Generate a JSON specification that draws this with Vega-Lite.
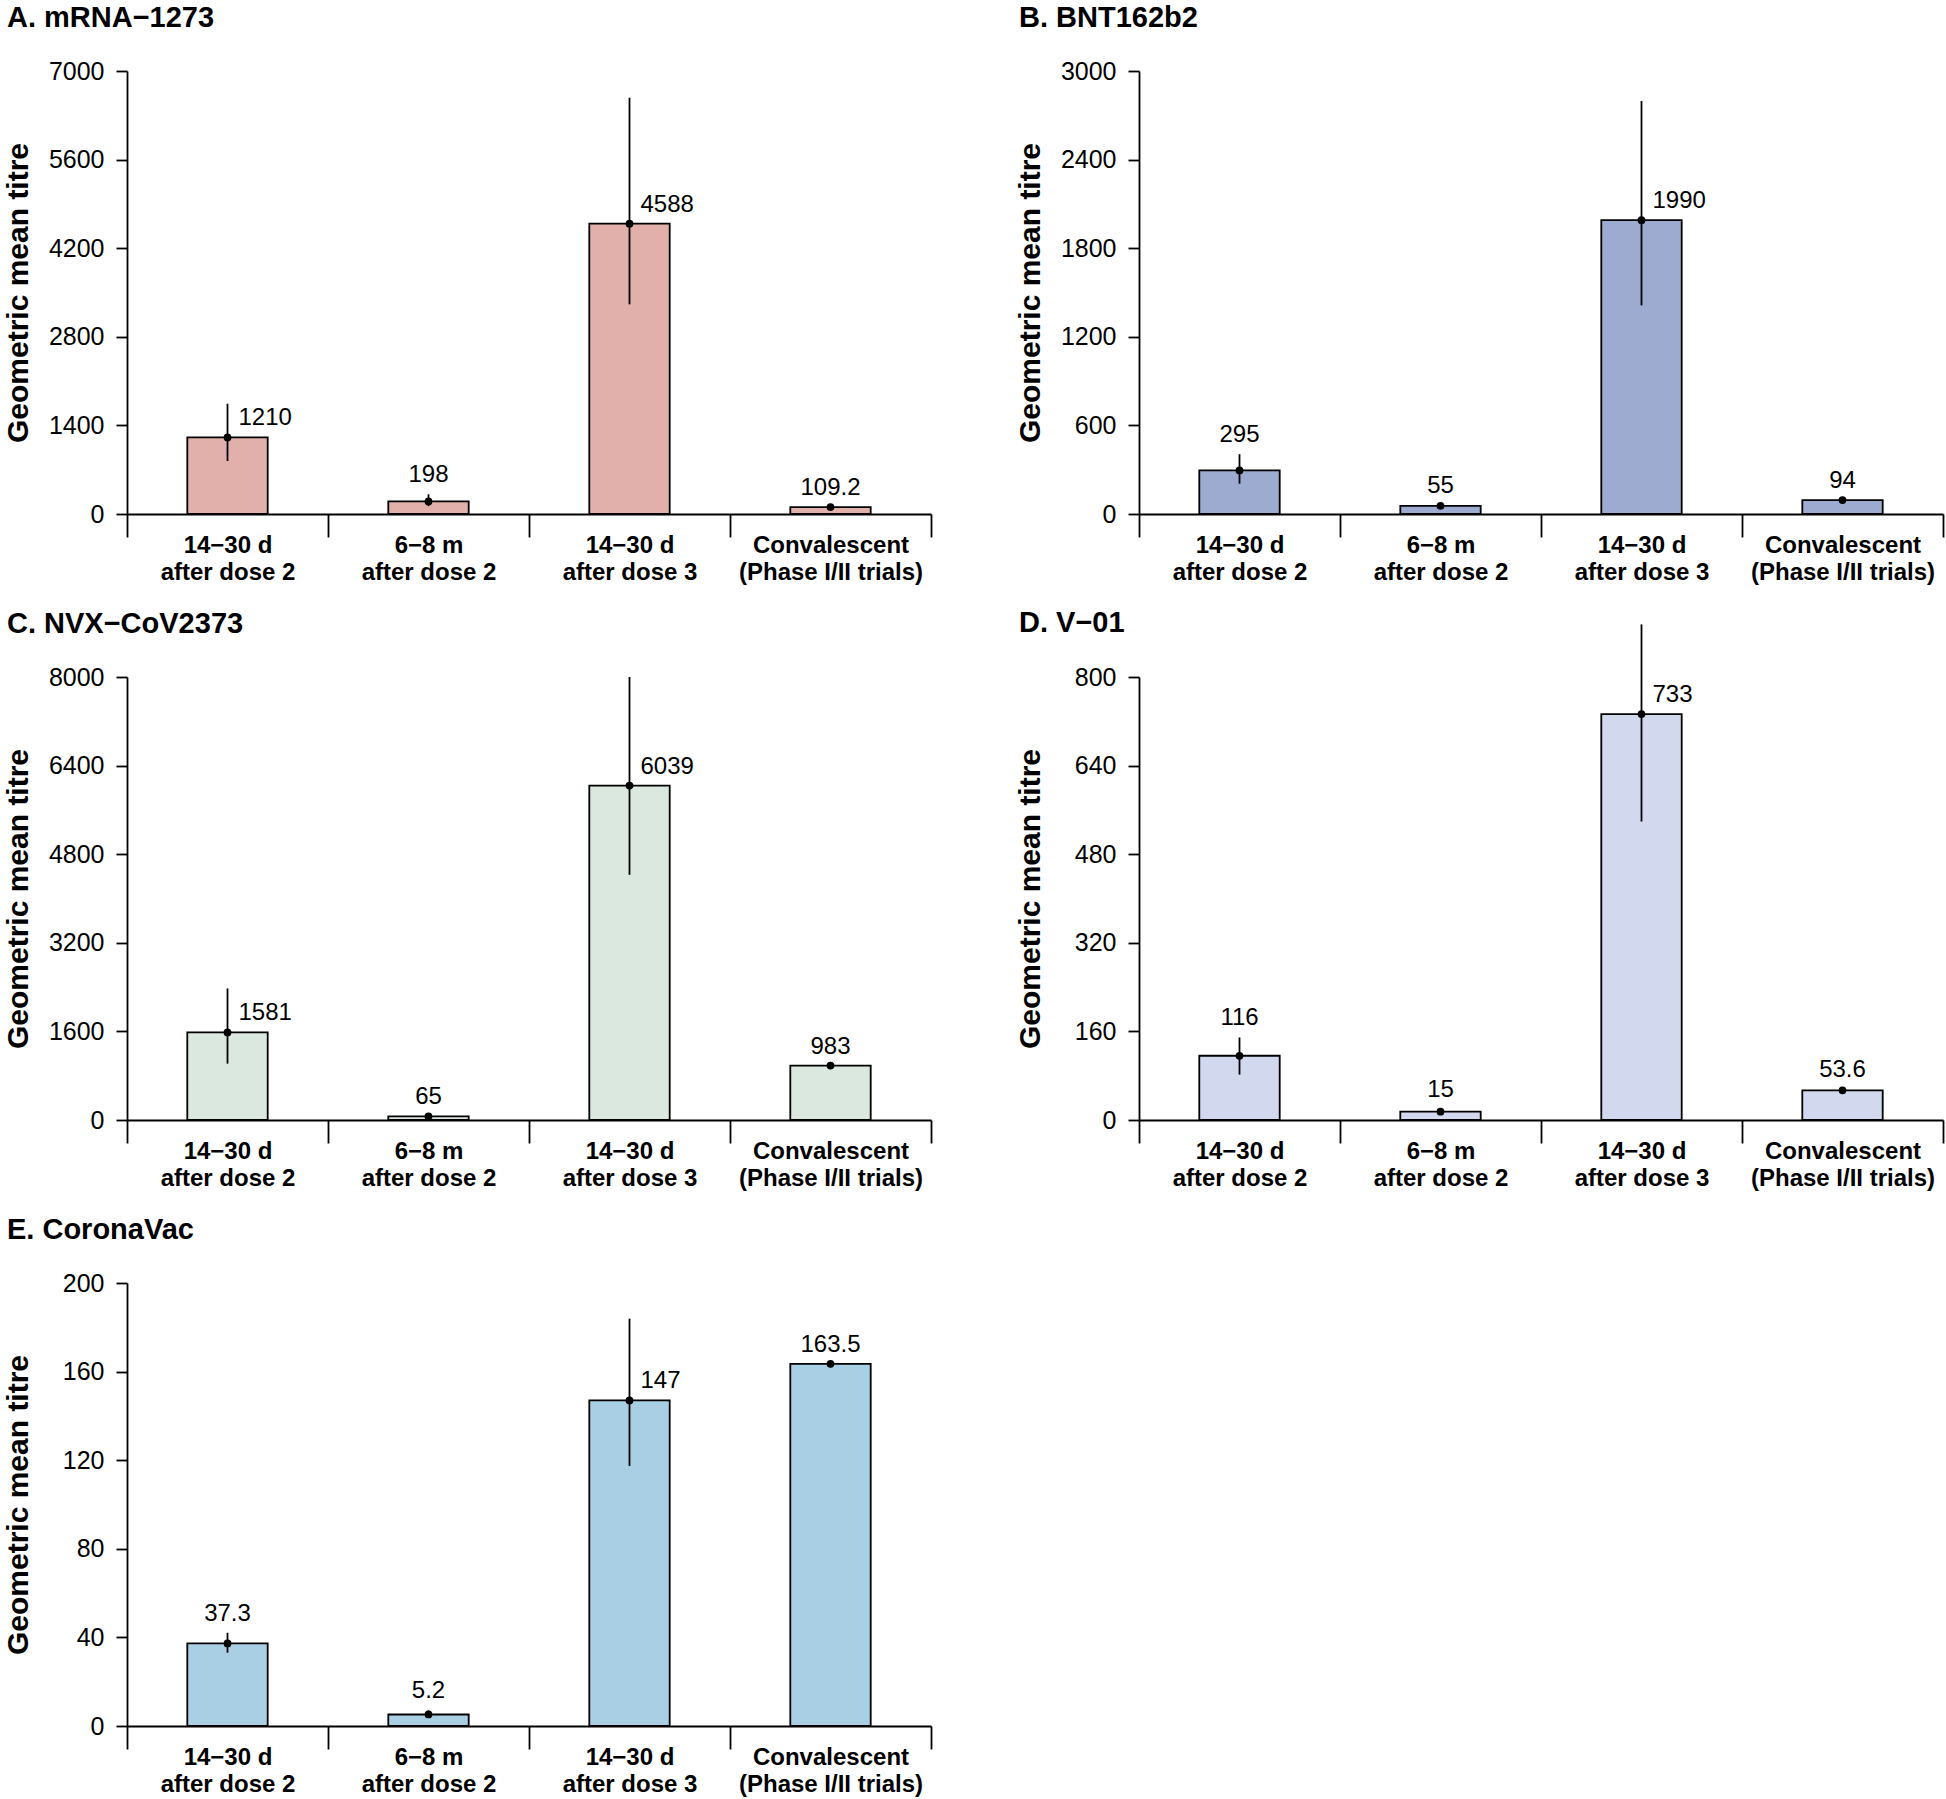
{
  "$schema": "https://vega.github.io/schema/vega-lite/v6.json",
  "background": "white",
  "padding": {"left": 2, "top": 4, "right": 2, "bottom": 2},
  "columns": 2,
  "spacing": {"row": 163, "column": 208},
  "bounds": "flush",
  "data": {
    "values": [
      {"vaccine": "mRNA−1273", "timepoint": "14−30 d after dose 2", "gmt": 1210, "lower": 837, "upper": 1743},
      {"vaccine": "mRNA−1273", "timepoint": "6−8 m after dose 2", "gmt": 198, "lower": 125, "upper": 311},
      {"vaccine": "mRNA−1273", "timepoint": "14−30 d after dose 3", "gmt": 4588, "lower": 3313, "upper": 6578},
      {"vaccine": "mRNA−1273", "timepoint": "Convalescent (Phase I/II trials)", "gmt": 109.2, "lower": 109.2, "upper": 109.2},
      {"vaccine": "BNT162b2", "timepoint": "14−30 d after dose 2", "gmt": 295, "lower": 205, "upper": 405},
      {"vaccine": "BNT162b2", "timepoint": "6−8 m after dose 2", "gmt": 55, "lower": 47, "upper": 62},
      {"vaccine": "BNT162b2", "timepoint": "14−30 d after dose 3", "gmt": 1990, "lower": 1413, "upper": 2797},
      {"vaccine": "BNT162b2", "timepoint": "Convalescent (Phase I/II trials)", "gmt": 94, "lower": 94, "upper": 94},
      {"vaccine": "NVX−CoV2373", "timepoint": "14−30 d after dose 2", "gmt": 1581, "lower": 1018, "upper": 2376},
      {"vaccine": "NVX−CoV2373", "timepoint": "6−8 m after dose 2", "gmt": 65, "lower": 55, "upper": 78},
      {"vaccine": "NVX−CoV2373", "timepoint": "14−30 d after dose 3", "gmt": 6039, "lower": 4428, "upper": 8000},
      {"vaccine": "NVX−CoV2373", "timepoint": "Convalescent (Phase I/II trials)", "gmt": 983, "lower": 983, "upper": 983},
      {"vaccine": "V−01", "timepoint": "14−30 d after dose 2", "gmt": 116, "lower": 82, "upper": 149},
      {"vaccine": "V−01", "timepoint": "6−8 m after dose 2", "gmt": 15, "lower": 12, "upper": 19},
      {"vaccine": "V−01", "timepoint": "14−30 d after dose 3", "gmt": 733, "lower": 539, "upper": 895},
      {"vaccine": "V−01", "timepoint": "Convalescent (Phase I/II trials)", "gmt": 53.6, "lower": 53.6, "upper": 56},
      {"vaccine": "CoronaVac", "timepoint": "14−30 d after dose 2", "gmt": 37.3, "lower": 33.1, "upper": 42.1},
      {"vaccine": "CoronaVac", "timepoint": "6−8 m after dose 2", "gmt": 5.2, "lower": 4.6, "upper": 7},
      {"vaccine": "CoronaVac", "timepoint": "14−30 d after dose 3", "gmt": 147, "lower": 117.4, "upper": 183.9},
      {"vaccine": "CoronaVac", "timepoint": "Convalescent (Phase I/II trials)", "gmt": 163.5, "lower": 163.5, "upper": 163.5}
    ]
  },
  "config": {
    "view": {"stroke": null},
    "font": "Liberation Sans",
    "title": {"anchor": "start", "frame": "group", "fontSize": 29, "fontWeight": "bold", "font": "Liberation Sans", "color": "black", "dx": -120, "offset": 26, "baseline": "alphabetic"},
    "axis": {"domainColor": "black", "domainWidth": 1.8, "tickColor": "black", "tickWidth": 1.8, "labelColor": "black", "titleColor": "black", "labelFont": "Liberation Sans", "titleFont": "Liberation Sans", "grid": false, "labelLimit": 0},
    "axisY": {"tickSize": 11, "labelFontSize": 25, "labelPadding": 12, "labelOverlap": false, "format": "d", "titleFontSize": 30, "titleFontWeight": "bold", "titleX": -100, "titleY": 221.5, "titleBaseline": "alphabetic"},
    "axisX": {"tickBand": "extent", "tickSize": 23, "labelFontSize": 24, "labelFontWeight": "bold", "labelLineHeight": 27, "labelPadding": -4, "labelAngle": 0, "labelFlush": false, "labelOverlap": false, "labelLimit": 0},
    "text": {"font": "Liberation Sans", "fontSize": 24, "color": "black"}
  },
  "concat": [
    {
      "title": {"text": "A. mRNA−1273"},
      "width": 804, "height": 443,
      "transform": [{"filter": "datum.vaccine === 'mRNA−1273'"}],
      "encoding": {
        "x": {"field": "timepoint", "type": "nominal", "title": null,
          "sort": ["14−30 d after dose 2", "6−8 m after dose 2", "14−30 d after dose 3", "Convalescent (Phase I/II trials)"],
          "scale": {"paddingInner": 0, "paddingOuter": 0},
          "axis": {"labelExpr": "!isValid(datum.value) ? '' : datum.value == 'Convalescent (Phase I/II trials)' ? ['Convalescent', '(Phase I/II trials)'] : [split(datum.value, ' after')[0], 'after' + split(datum.value, ' after')[1]]"}}
      },
      "layer": [
        {"mark": {"type": "bar", "width": {"band": 0.4}, "fill": "#E1B0AA", "stroke": "black", "strokeWidth": 1.8},
         "encoding": {"y": {"field": "gmt", "type": "quantitative", "title": "Geometric mean titre", "scale": {"domain": [0, 7000], "nice": false}, "axis": {"values": [0, 1400, 2800, 4200, 5600, 7000]}}}},
        {"mark": {"type": "rule", "strokeWidth": 1.8, "color": "black"},
         "encoding": {"y": {"field": "lower", "type": "quantitative", "title": "Geometric mean titre"}, "y2": {"field": "upper"}}},
        {"mark": {"type": "point", "filled": true, "color": "black", "opacity": 1, "size": 60},
         "encoding": {"y": {"field": "gmt", "type": "quantitative", "title": "Geometric mean titre"}}},
        {"transform": [{"filter": "datum.upper - datum.gmt > 350"}],
         "mark": {"type": "text", "align": "left", "dx": 11, "dy": -12, "baseline": "alphabetic"},
         "encoding": {"y": {"field": "gmt", "type": "quantitative", "title": "Geometric mean titre"}, "text": {"field": "gmt", "type": "quantitative", "format": ".4~r"}}},
        {"transform": [{"filter": "datum.upper - datum.gmt <= 350"}],
         "mark": {"type": "text", "align": "center", "dy": -12, "baseline": "alphabetic"},
         "encoding": {"y": {"field": "upper", "type": "quantitative", "title": "Geometric mean titre"}, "text": {"field": "gmt", "type": "quantitative", "format": ".4~r"}}}
      ]
    },
    {
      "title": {"text": "B. BNT162b2"},
      "width": 804, "height": 443,
      "transform": [{"filter": "datum.vaccine === 'BNT162b2'"}],
      "encoding": {
        "x": {"field": "timepoint", "type": "nominal", "title": null,
          "sort": ["14−30 d after dose 2", "6−8 m after dose 2", "14−30 d after dose 3", "Convalescent (Phase I/II trials)"],
          "scale": {"paddingInner": 0, "paddingOuter": 0},
          "axis": {"labelExpr": "!isValid(datum.value) ? '' : datum.value == 'Convalescent (Phase I/II trials)' ? ['Convalescent', '(Phase I/II trials)'] : [split(datum.value, ' after')[0], 'after' + split(datum.value, ' after')[1]]"}}
      },
      "layer": [
        {"mark": {"type": "bar", "width": {"band": 0.4}, "fill": "#9DABD0", "stroke": "black", "strokeWidth": 1.8},
         "encoding": {"y": {"field": "gmt", "type": "quantitative", "title": "Geometric mean titre", "scale": {"domain": [0, 3000], "nice": false}, "axis": {"values": [0, 600, 1200, 1800, 2400, 3000]}}}},
        {"mark": {"type": "rule", "strokeWidth": 1.8, "color": "black"},
         "encoding": {"y": {"field": "lower", "type": "quantitative", "title": "Geometric mean titre"}, "y2": {"field": "upper"}}},
        {"mark": {"type": "point", "filled": true, "color": "black", "opacity": 1, "size": 60},
         "encoding": {"y": {"field": "gmt", "type": "quantitative", "title": "Geometric mean titre"}}},
        {"transform": [{"filter": "datum.upper - datum.gmt > 150"}],
         "mark": {"type": "text", "align": "left", "dx": 11, "dy": -12, "baseline": "alphabetic"},
         "encoding": {"y": {"field": "gmt", "type": "quantitative", "title": "Geometric mean titre"}, "text": {"field": "gmt", "type": "quantitative", "format": ".4~r"}}},
        {"transform": [{"filter": "datum.upper - datum.gmt <= 150"}],
         "mark": {"type": "text", "align": "center", "dy": -12, "baseline": "alphabetic"},
         "encoding": {"y": {"field": "upper", "type": "quantitative", "title": "Geometric mean titre"}, "text": {"field": "gmt", "type": "quantitative", "format": ".4~r"}}}
      ]
    },
    {
      "title": {"text": "C. NVX−CoV2373"},
      "width": 804, "height": 443,
      "transform": [{"filter": "datum.vaccine === 'NVX−CoV2373'"}],
      "encoding": {
        "x": {"field": "timepoint", "type": "nominal", "title": null,
          "sort": ["14−30 d after dose 2", "6−8 m after dose 2", "14−30 d after dose 3", "Convalescent (Phase I/II trials)"],
          "scale": {"paddingInner": 0, "paddingOuter": 0},
          "axis": {"labelExpr": "!isValid(datum.value) ? '' : datum.value == 'Convalescent (Phase I/II trials)' ? ['Convalescent', '(Phase I/II trials)'] : [split(datum.value, ' after')[0], 'after' + split(datum.value, ' after')[1]]"}}
      },
      "layer": [
        {"mark": {"type": "bar", "width": {"band": 0.4}, "fill": "#DBE8E0", "stroke": "black", "strokeWidth": 1.8},
         "encoding": {"y": {"field": "gmt", "type": "quantitative", "title": "Geometric mean titre", "scale": {"domain": [0, 8000], "nice": false}, "axis": {"values": [0, 1600, 3200, 4800, 6400, 8000]}}}},
        {"mark": {"type": "rule", "strokeWidth": 1.8, "color": "black"},
         "encoding": {"y": {"field": "lower", "type": "quantitative", "title": "Geometric mean titre"}, "y2": {"field": "upper"}}},
        {"mark": {"type": "point", "filled": true, "color": "black", "opacity": 1, "size": 60},
         "encoding": {"y": {"field": "gmt", "type": "quantitative", "title": "Geometric mean titre"}}},
        {"transform": [{"filter": "datum.upper - datum.gmt > 400"}],
         "mark": {"type": "text", "align": "left", "dx": 11, "dy": -12, "baseline": "alphabetic"},
         "encoding": {"y": {"field": "gmt", "type": "quantitative", "title": "Geometric mean titre"}, "text": {"field": "gmt", "type": "quantitative", "format": ".4~r"}}},
        {"transform": [{"filter": "datum.upper - datum.gmt <= 400"}],
         "mark": {"type": "text", "align": "center", "dy": -12, "baseline": "alphabetic"},
         "encoding": {"y": {"field": "upper", "type": "quantitative", "title": "Geometric mean titre"}, "text": {"field": "gmt", "type": "quantitative", "format": ".4~r"}}}
      ]
    },
    {
      "title": {"text": "D. V−01", "offset": -15},
      "width": 804, "height": 443,
      "transform": [{"filter": "datum.vaccine === 'V−01'"}],
      "encoding": {
        "x": {"field": "timepoint", "type": "nominal", "title": null,
          "sort": ["14−30 d after dose 2", "6−8 m after dose 2", "14−30 d after dose 3", "Convalescent (Phase I/II trials)"],
          "scale": {"paddingInner": 0, "paddingOuter": 0},
          "axis": {"labelExpr": "!isValid(datum.value) ? '' : datum.value == 'Convalescent (Phase I/II trials)' ? ['Convalescent', '(Phase I/II trials)'] : [split(datum.value, ' after')[0], 'after' + split(datum.value, ' after')[1]]"}}
      },
      "layer": [
        {"mark": {"type": "bar", "width": {"band": 0.4}, "fill": "#D2D8EE", "stroke": "black", "strokeWidth": 1.8},
         "encoding": {"y": {"field": "gmt", "type": "quantitative", "title": "Geometric mean titre", "scale": {"domain": [0, 800], "nice": false}, "axis": {"values": [0, 160, 320, 480, 640, 800]}}}},
        {"mark": {"type": "rule", "strokeWidth": 1.8, "color": "black"},
         "encoding": {"y": {"field": "lower", "type": "quantitative", "title": "Geometric mean titre"}, "y2": {"field": "upper"}}},
        {"mark": {"type": "point", "filled": true, "color": "black", "opacity": 1, "size": 60},
         "encoding": {"y": {"field": "gmt", "type": "quantitative", "title": "Geometric mean titre"}}},
        {"transform": [{"filter": "datum.upper - datum.gmt > 40"}],
         "mark": {"type": "text", "align": "left", "dx": 11, "dy": -12, "baseline": "alphabetic"},
         "encoding": {"y": {"field": "gmt", "type": "quantitative", "title": "Geometric mean titre"}, "text": {"field": "gmt", "type": "quantitative", "format": ".4~r"}}},
        {"transform": [{"filter": "datum.upper - datum.gmt <= 40"}],
         "mark": {"type": "text", "align": "center", "dy": -12, "baseline": "alphabetic"},
         "encoding": {"y": {"field": "upper", "type": "quantitative", "title": "Geometric mean titre"}, "text": {"field": "gmt", "type": "quantitative", "format": ".4~r"}}}
      ]
    },
    {
      "title": {"text": "E. CoronaVac"},
      "width": 804, "height": 443,
      "transform": [{"filter": "datum.vaccine === 'CoronaVac'"}],
      "encoding": {
        "x": {"field": "timepoint", "type": "nominal", "title": null,
          "sort": ["14−30 d after dose 2", "6−8 m after dose 2", "14−30 d after dose 3", "Convalescent (Phase I/II trials)"],
          "scale": {"paddingInner": 0, "paddingOuter": 0},
          "axis": {"labelExpr": "!isValid(datum.value) ? '' : datum.value == 'Convalescent (Phase I/II trials)' ? ['Convalescent', '(Phase I/II trials)'] : [split(datum.value, ' after')[0], 'after' + split(datum.value, ' after')[1]]"}}
      },
      "layer": [
        {"mark": {"type": "bar", "width": {"band": 0.4}, "fill": "#A9CFE4", "stroke": "black", "strokeWidth": 1.8},
         "encoding": {"y": {"field": "gmt", "type": "quantitative", "title": "Geometric mean titre", "scale": {"domain": [0, 200], "nice": false}, "axis": {"values": [0, 40, 80, 120, 160, 200]}}}},
        {"mark": {"type": "rule", "strokeWidth": 1.8, "color": "black"},
         "encoding": {"y": {"field": "lower", "type": "quantitative", "title": "Geometric mean titre"}, "y2": {"field": "upper"}}},
        {"mark": {"type": "point", "filled": true, "color": "black", "opacity": 1, "size": 60},
         "encoding": {"y": {"field": "gmt", "type": "quantitative", "title": "Geometric mean titre"}}},
        {"transform": [{"filter": "datum.upper - datum.gmt > 10"}],
         "mark": {"type": "text", "align": "left", "dx": 11, "dy": -12, "baseline": "alphabetic"},
         "encoding": {"y": {"field": "gmt", "type": "quantitative", "title": "Geometric mean titre"}, "text": {"field": "gmt", "type": "quantitative", "format": ".4~r"}}},
        {"transform": [{"filter": "datum.upper - datum.gmt <= 10"}],
         "mark": {"type": "text", "align": "center", "dy": -12, "baseline": "alphabetic"},
         "encoding": {"y": {"field": "upper", "type": "quantitative", "title": "Geometric mean titre"}, "text": {"field": "gmt", "type": "quantitative", "format": ".4~r"}}}
      ]
    }
  ]
}
